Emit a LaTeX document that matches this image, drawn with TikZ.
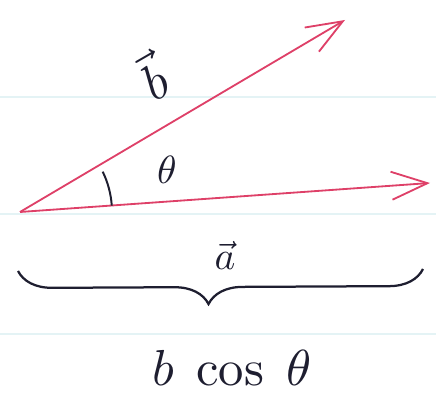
\documentclass[tikz,border=0pt]{standalone}
\usepackage{amsmath}
\usetikzlibrary{arrows.meta,decorations.pathreplacing}
\definecolor{vecpink}{RGB}{222,64,104}
\definecolor{inkblue}{RGB}{30,30,48}
\definecolor{ruled}{RGB}{228,243,245}

\begin{document}
\begin{tikzpicture}[
    x=0.025cm, y=-0.025cm,
    vec/.style={-{Straight Barb[length=9mm, width=7mm, line width=1.3pt]}, line width=1.3pt, color=vecpink},
    ink/.style={text=inkblue, inner sep=0pt},
    rule/.style={color=ruled, line width=1.2pt},
]
\useasboundingbox (0,0) rectangle (436,398);

% ── Paper lines ──
\draw[rule] (0,97) -- (436,97);
\draw[rule] (0,214) -- (436,214);
\draw[rule] (0,334) -- (436,334);

% ── Points ──
\coordinate (O) at (20,212);
\coordinate (btip) at (345,20);
\coordinate (atip) at (430,183);
\coordinate (brL) at (18,271);
\coordinate (brR) at (423,269);

% ── Vectors ──
\draw[vec] (O) -- (btip);
\draw[vec] (O) -- (atip);

% ── Angle ──
\draw[inkblue, line width=1.4pt] ([shift={(4:92*0.025cm)}]O) arc[start angle=4, end angle=26, radius=92*0.025cm];

% ── Labels ──
\node[ink, scale=3.6, rotate=30] (blab) at (152,76) {$\vec{b}$};
\node[ink, scale=2.8] (theta) at (167,170) {$\theta$};
\node[ink, scale=2.8] (alab) at (225,255) {$\vec{a}$};

% ── Brace ──
\draw[inkblue, line width=1.6pt, decoration={brace, amplitude=0.85cm, aspect=0.53}, decorate] (brR) -- (brL);

\node[ink, scale=3.6] (proj) at (232,368) {$b\;\cos\;\theta$};

\end{tikzpicture}
\end{document}
